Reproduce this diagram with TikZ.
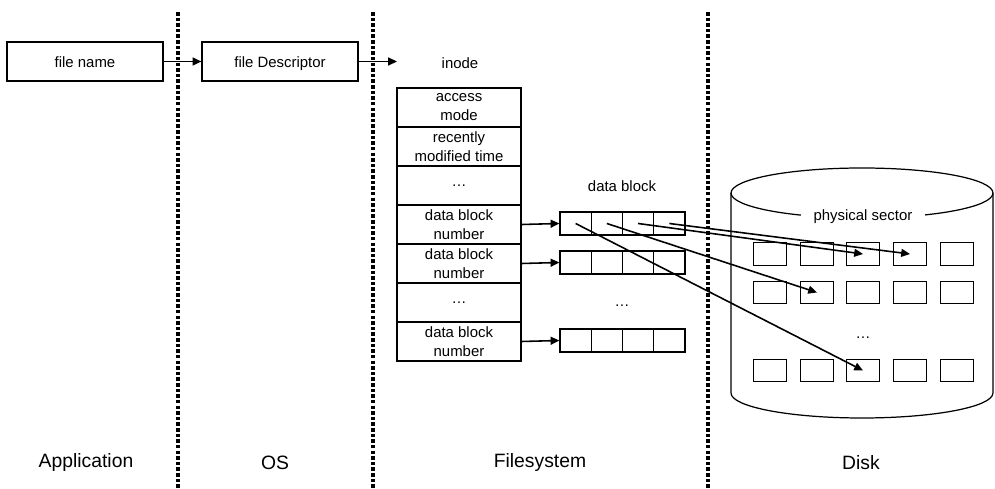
\documentclass[tikz,border=0pt]{standalone}
\usepackage{fontspec}
\setmainfont{Liberation Sans}
\usepackage{tikz}
\usetikzlibrary{arrows.meta}
\newcommand{\cellfont}{\fontsize{8.5}{10.8}\selectfont}
\newcommand{\layerfont}{\fontsize{11}{13}\selectfont}

\begin{document}
\begin{tikzpicture}[x=0.02cm, y=-0.02cm,
    namebox/.style={rectangle, draw, line width=0.7pt, minimum width=3.12cm,
    minimum height=0.78cm, inner sep=0pt, text height=1.6ex, text depth=0.4ex,
    font=\cellfont},
    field/.style={rectangle, draw, line width=0.7pt, minimum width=2.48cm,
    minimum height=0.78cm, inner sep=0pt, align=center, font=\cellfont},
    cell/.style={rectangle, draw, line width=0.7pt, minimum width=0.625cm,
    minimum height=0.46cm, inner sep=0pt},
    sector/.style={rectangle, draw, line width=0.7pt, minimum width=0.66cm,
    minimum height=0.45cm, inner sep=0pt},
    ptr/.style={-{Triangle[length=5pt, width=4.5pt]}, line width=0.9pt},
    layer/.style={line width=2.2pt, dash pattern=on 2pt off 1.2pt},
    caption/.style={font=\cellfont, inner sep=1pt},
    layername/.style={font=\layerfont}
]
    \useasboundingbox (0,0) rectangle (995,489);

    % Layer separators
    \draw[layer] (178,12) -- (178,489);
    \draw[layer] (373,12) -- (373,489);
    \draw[layer] (708,12) -- (708,489);

    % Application / OS
    \node[namebox] (fname) at (85,61.5)  {file name};
    \node[namebox] (fdesc) at (280,61.5) {file Descriptor};
    \coordinate (toinode) at (397,61.5);
    \draw[ptr] (fname) -- (fdesc);
    \draw[ptr] (fdesc) -- (toinode);

    % inode table
    \node[caption] (inode) at (460,63) {inode};
    \node[field] (f1) at (459,107.5) {access\\mode};
    \node[field] (f2) at (459,146.5) {recently\\modified time};
    \node[field] (f3) at (459,185.5) {\dots};
    \node[field] (f4) at (459,224.5) {data block\\number};
    \node[field] (f5) at (459,263.5) {data block\\number};
    \node[field] (f6) at (459,302.5) {\dots};
    \node[field] (f7) at (459,341.5) {data block\\number};

    % data blocks
    \node[caption] (dblabel) at (622,186) {data block};
    \foreach \r/\y in {a/223.5, b/262.5, c/340.5}
        \foreach \c in {1,...,4}
            \node[cell] (blk\r\c) at (560+31.25*\c-15.625,\y) {};
    \node[caption] (dbdots) at (622,306) {\dots};

    \draw[ptr] (f4.east) -- (blka1.west);
    \draw[ptr] (f5.east) -- (blkb1.west);
    \draw[ptr] (f7.east) -- (blkc1.west);

    % Disk cylinder
    \draw[line width=0.7pt] (731,193) -- (731,393)
        arc[start angle=180, end angle=360, x radius=2.62cm, y radius=0.5cm]
        -- (993,193);
    \draw[line width=0.7pt] (862,193) ellipse [x radius=2.62cm, y radius=0.5cm];
    \node[caption, fill=white, inner xsep=7pt] (phys) at (863,217) {physical sector};

    % physical sectors
    \foreach \row/\y in {1/254, 2/292.5, 3/370.5}
        \foreach \col/\x in {1/770, 2/817, 3/863, 4/910, 5/957}
            \node[sector] (sec\row\col) at (\x,\y) {};
    \node[caption] (secdots) at (863,338) {\dots};

    % block -> sector mapping
    \draw[ptr] (blka1.center) -- (sec33.center);
    \draw[ptr] (blka2.center) -- (sec22.center);
    \draw[ptr] (blka3.center) -- (sec13.center);
    \draw[ptr] (blka4.center) -- (sec14.center);

    % Layer names
    \node[layername] (app) at (86,463)  {Application};
    \node[layername] (os)  at (275,463) {OS};
    \node[layername] (fs)  at (540,463) {Filesystem};
    \node[layername] (dsk) at (861,463) {Disk};
\end{tikzpicture}
\end{document}
